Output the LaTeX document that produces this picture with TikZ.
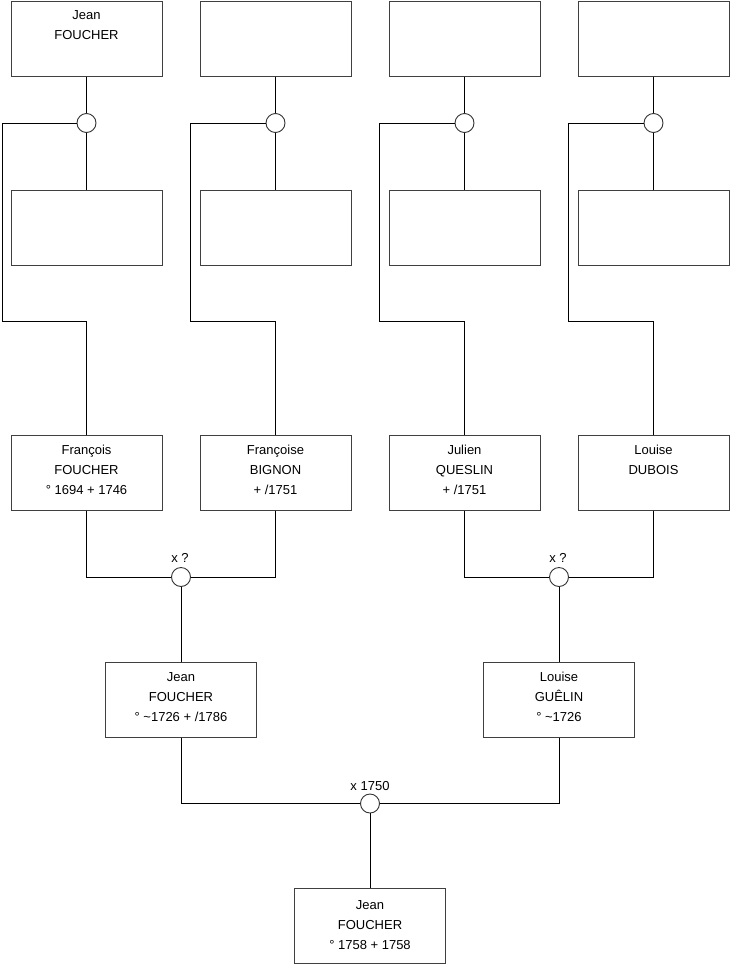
\documentclass[tikz,border=0pt]{standalone}
\usepackage{fontspec}
\setmainfont{Liberation Sans}
\begin{document}
\begin{tikzpicture}[x=1pt,y=-1pt,
  pbox/.style={draw=black!75,line width=1pt,minimum width=151pt,minimum height=75pt,inner sep=0pt,fill=white},
  ptext/.style={anchor=north,align=center,inner sep=0pt,font=\fontsize{13}{20}\selectfont},
  knot/.style={circle,draw=black!80,line width=0.9pt,minimum size=19pt,inner sep=0pt,fill=white},
  conn/.style={draw=black,line width=1pt},
  mlabel/.style={anchor=base,inner sep=0pt,font=\fontsize{13}{20}\selectfont}]
\useasboundingbox (0,0) rectangle (740,975);
% top row
\node[pbox] (t1) at (86.5,38.5) {};
\node[pbox] (t2) at (275.5,38.5) {};
\node[pbox] (t3) at (464.5,38.5) {};
\node[pbox] (t4) at (653.5,38.5) {};
\node[ptext] at ([yshift=-10pt]t1.north) {Jean\\FOUCHER};
% second row
\node[pbox] (s1) at (86.5,227.5) {};
\node[pbox] (s2) at (275.5,227.5) {};
\node[pbox] (s3) at (464.5,227.5) {};
\node[pbox] (s4) at (653.5,227.5) {};
% third row
\node[pbox] (p1) at (86.5,472.5) {};
\node[pbox] (p2) at (275.5,472.5) {};
\node[pbox] (p3) at (464.5,472.5) {};
\node[pbox] (p4) at (653.5,472.5) {};
\node[ptext] at ([yshift=-10.5pt]p1.north) {François\\FOUCHER\\° 1694 + 1746};
\node[ptext] at ([yshift=-10.5pt]p2.north) {Françoise\\BIGNON\\+ /1751};
\node[ptext] at ([yshift=-10.5pt]p3.north) {Julien\\QUESLIN\\+ /1751};
\node[ptext] at ([yshift=-10.5pt]p4.north) {Louise\\DUBOIS};
% fourth row
\node[pbox] (g1) at (181,699.5) {};
\node[pbox] (g2) at (559,699.5) {};
\node[ptext] at ([yshift=-10.5pt]g1.north) {Jean\\FOUCHER\\° \textasciitilde1726 + /1786};
\node[ptext] at ([yshift=-10.5pt]g2.north) {Louise\\GUÊLIN\\° \textasciitilde1726};
% bottom
\node[pbox] (b) at (370,926) {};
\node[ptext] at ([yshift=-12.5pt]b.north) {Jean\\FOUCHER\\° 1758 + 1758};
% knots
\node[knot] (k1) at (86.5,123) {};
\node[knot] (k2) at (275.5,123) {};
\node[knot] (k3) at (464.5,123) {};
\node[knot] (k4) at (653.5,123) {};
\node[knot] (c1) at (181,577) {};
\node[knot] (c2) at (559,577) {};
\node[knot] (c0) at (370,803.5) {};
\node[mlabel] at (180,562) {x ?};
\node[mlabel] at (558,562) {x ?};
\node[mlabel] at (370,790) {x 1750};
% connectors top part
\foreach \i/\lx in {1/2,2/190.5,3/379.5,4/568.5}{
  \draw[conn] (t\i) -- (k\i);
  \draw[conn] (k\i) -- (s\i);
  \draw[conn] (k\i.west) -- (\lx,123) -- (\lx,321.5) -| (p\i.north);
}
% couples
\draw[conn] (p1.south) |- (c1.west);
\draw[conn] (p2.south) |- (c1.east);
\draw[conn] (c1) -- (g1);
\draw[conn] (p3.south) |- (c2.west);
\draw[conn] (p4.south) |- (c2.east);
\draw[conn] (c2) -- (g2);
\draw[conn] (g1.south) |- (c0.west);
\draw[conn] (g2.south) |- (c0.east);
\draw[conn] (c0) -- (b);
\end{tikzpicture}
\end{document}
